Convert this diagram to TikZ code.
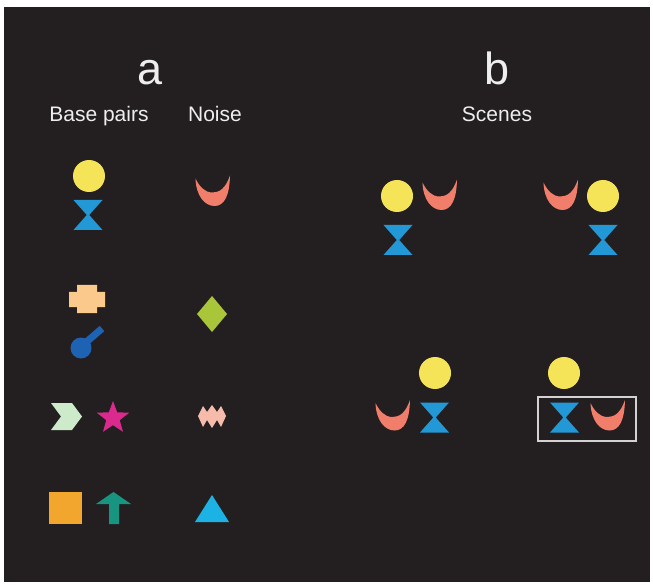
\documentclass[tikz,border=0pt]{standalone}
\usepackage{fontspec}
\setmainfont{Liberation Sans}
\usetikzlibrary{shapes.geometric}

\definecolor{panel}{HTML}{231F20}
\definecolor{labelgray}{HTML}{EEEEEE}
\definecolor{sunyellow}{HTML}{F6E458}
\definecolor{hgblue}{HTML}{2298D6}
\definecolor{moonred}{HTML}{F07E6B}
\definecolor{crossorange}{HTML}{FBC98B}
\definecolor{keyblue}{HTML}{1E62B4}
\definecolor{chevgreen}{HTML}{CDEBCB}
\definecolor{starpink}{HTML}{DA2A8E}
\definecolor{sqorange}{HTML}{F2A62E}
\definecolor{arrowteal}{HTML}{179580}
\definecolor{diamgreen}{HTML}{A9C63B}
\definecolor{zigpink}{HTML}{F6BBAA}
\definecolor{tricyan}{HTML}{1CB2E4}
\definecolor{boxgray}{HTML}{D2D2D2}

\tikzset{
  bigletter/.style={text=labelgray, anchor=base, inner sep=0pt, font=\fontsize{45}{50}\selectfont},
  colhead/.style={text=labelgray, anchor=base, inner sep=0pt, font=\fontsize{21}{25}\selectfont},
  hglass/.pic={\fill[hgblue] (-14.5,-15) -- (14.5,-15) -- (1.2,0) -- (14.5,15)
                 -- (-14.5,15) -- (-1.2,0) -- cycle;},
  sun/.pic={\fill[sunyellow] (0,0) circle[radius=16];},
  moon/.pic={\fill[moonred] (-17,-13) .. controls (-16.5,4) and (-8,14.5) .. (2,14.5)
                 .. controls (12,14.5) and (17,4) .. (17.5,-16)
                 .. controls (13,-3) and (7,1) .. (0,1)
                 .. controls (-8,1) and (-13,-5) .. (-17,-13) -- cycle;}
}

\begin{document}
\begin{tikzpicture}[x=1pt, y=-1pt]
  % page and dark panel
  \fill[white] (0,0) rectangle (653,585);
  \fill[panel] (4,7) rectangle (650,582);
  \useasboundingbox (0,0) rectangle (653,585);

  % headings
  \node[bigletter] (lblA) at (150,85) {a};
  \node[bigletter] (lblB) at (497,85) {b};
  \node[colhead] (hdBase) at (99,122) {Base pairs};
  \node[colhead] (hdNoise) at (215,122) {Noise};
  \node[colhead] (hdScenes) at (497,122) {Scenes};

  % base pairs: circle over hourglass
  \pic at (89,176) {sun};
  \pic at (88,215) {hglass};

  % base pairs: cross over key
  \fill[crossorange] (77,285) -- (97,285) -- (97,292) -- (105,292) -- (105,307) -- (97,307)
    -- (97,313) -- (77,313) -- (77,307) -- (69,307) -- (69,292) -- (77,292) -- cycle;
  \fill[keyblue] (81,348) circle[radius=10.5];
  \draw[keyblue, line width=7pt] (83,345) -- (102,328.5);

  % base pairs: chevron and star
  \fill[chevgreen] (51,403) -- (72,403) -- (82,416.5) -- (72,430) -- (51,430) -- (61,416.5) -- cycle;
  \node[star, star points=5, star point ratio=2.4, minimum size=34pt, inner sep=0pt,
        fill=starpink] (pinkstar) at (113,418) {};

  % base pairs: square and arrow
  \fill[sqorange] (49,492) rectangle (82,524);
  \fill[arrowteal] (96,504) -- (113.5,492) -- (131,504) -- (119,504) -- (119,524)
    -- (109,524) -- (109,504) -- cycle;

  % noise column
  \pic at (212.5,191.5) {moon};
  \fill[diamgreen] (212,296) -- (227,314) -- (212,332) -- (197,314) -- cycle;
  \fill[zigpink] (198,416) -- (203,406) -- (207,412) -- (212,405) -- (217,412) -- (221,406)
    -- (226,416) -- (221,427) -- (217,420) -- (212,428) -- (207,420) -- (203,427) -- cycle;
  \fill[tricyan] (195,522) -- (212,495) -- (229,522) -- cycle;

  % scenes: top left
  \pic at (397,196) {sun};
  \pic at (439.5,195.5) {moon};
  \pic at (398,240) {hglass};

  % scenes: top right
  \pic at (560.5,195.5) {moon};
  \pic at (603,196) {sun};
  \pic at (603,240) {hglass};

  % scenes: bottom left
  \pic at (435,373) {sun};
  \pic at (392.5,416) {moon};
  \pic at (434.5,417.5) {hglass};

  % scenes: bottom right, with the highlighted pair boxed
  \pic at (564,373) {sun};
  \pic at (564.5,417.5) {hglass};
  \pic at (607.5,416) {moon};
  \draw[boxgray, line width=1.3pt] (538,397) rectangle (636,441);
\end{tikzpicture}
\end{document}
